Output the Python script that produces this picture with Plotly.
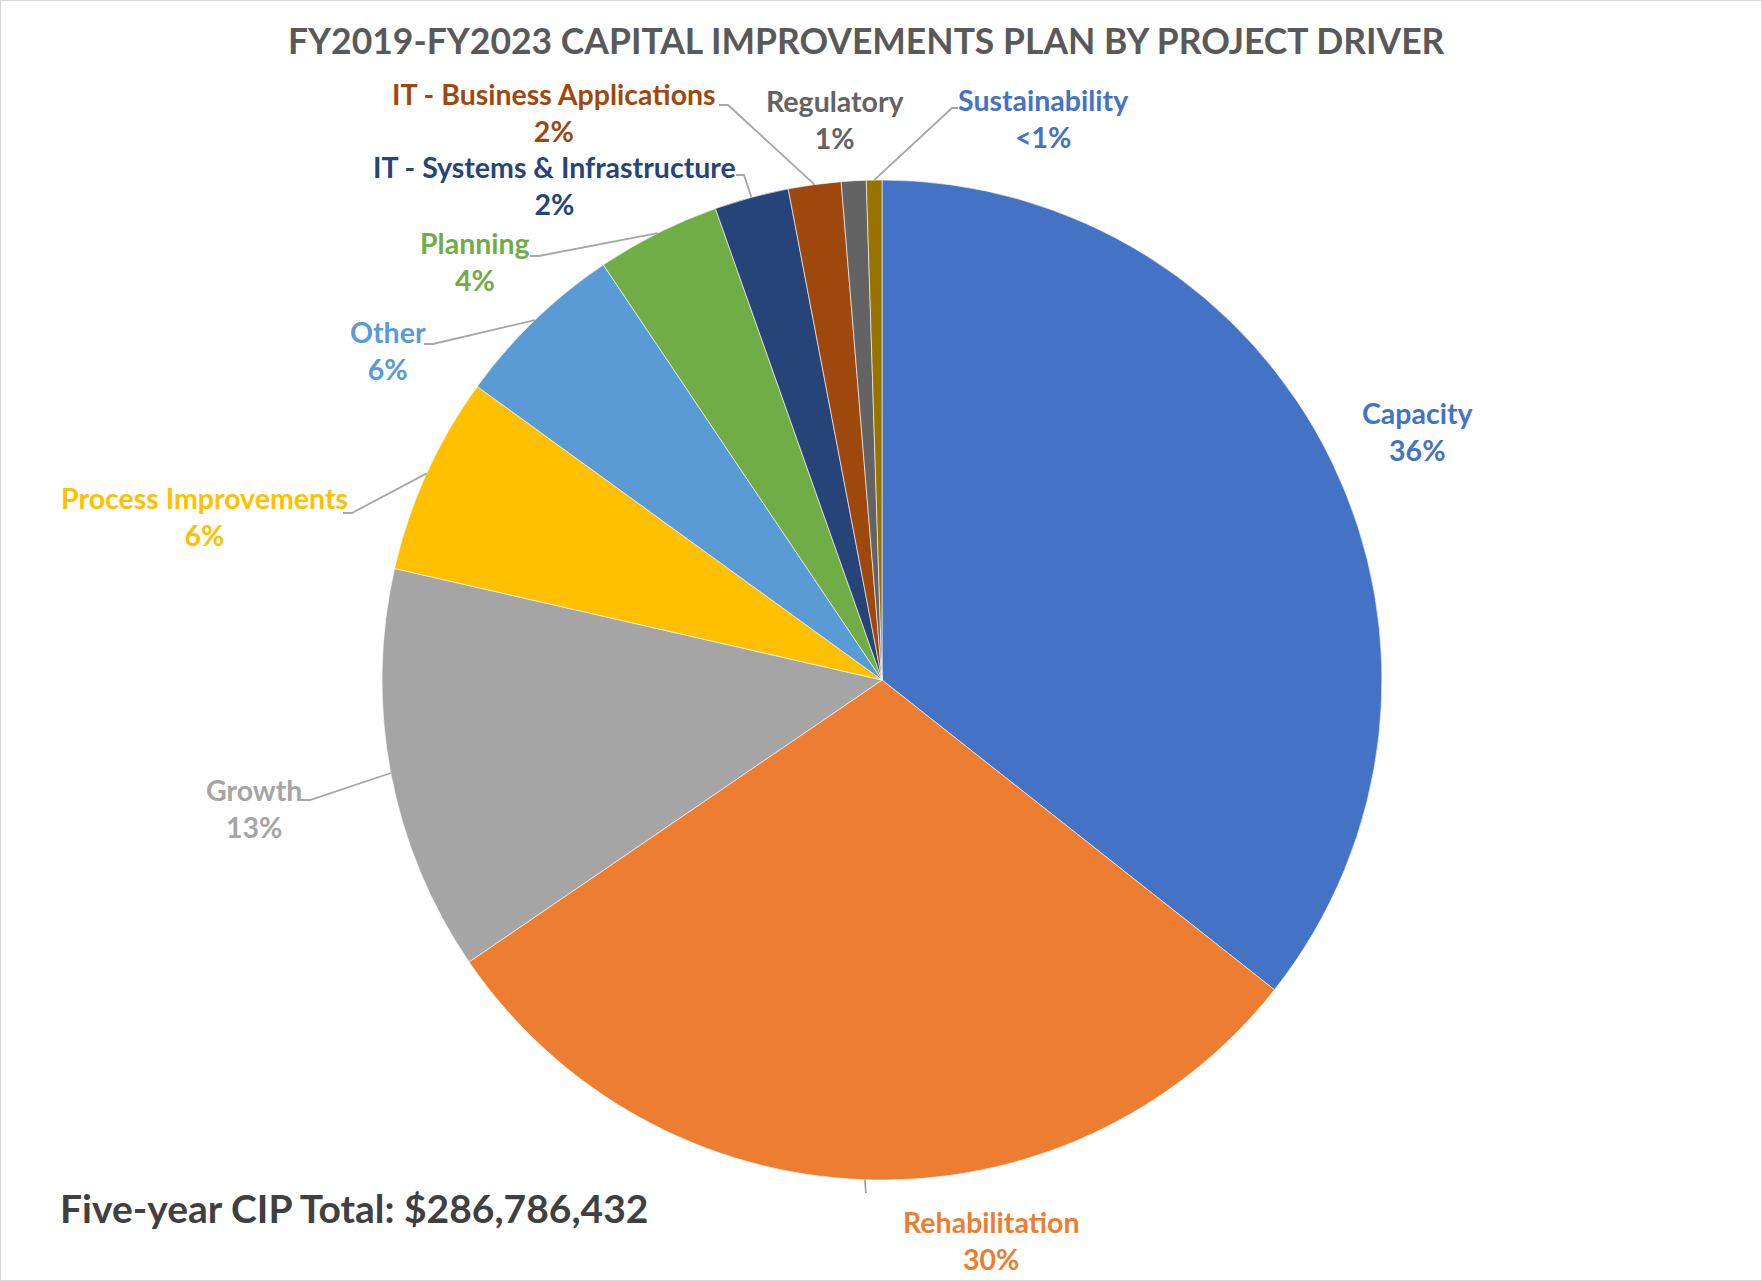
import math
import plotly.graph_objects as go

# ---------------- data ----------------
categories = ["Capacity", "Rehabilitation", "Growth", "Process Improvements", "Other",
              "Planning", "IT - Systems & Infrastructure", "IT - Business Applications",
              "Regulatory", "Sustainability"]
shares = [35.6, 29.8, 13.1, 6.4, 5.6, 4.0, 2.4, 1.7, 0.8, 0.5]
pct_labels = ["36%", "30%", "13%", "6%", "6%", "4%", "2%", "2%", "1%", "<1%"]
title_text = "FY2019-FY2023 CAPITAL IMPROVEMENTS PLAN BY PROJECT DRIVER"
total_text = "Five-year CIP Total: $286,786,432"

# ---------------- style ----------------
W, H = 1762, 1281
slice_colors = ["#4472C4", "#ED7D31", "#A5A5A5", "#FFC000", "#5B9BD5",
                "#70AD47", "#264478", "#9E480E", "#636363", "#997300"]
label_colors = ["#4472C4", "#ED7D31", "#A5A5A5", "#FFC000", "#5B9BD5",
                "#70AD47", "#264478", "#9E480E", "#636363", "#4472C4"]
FONT = "Lato"
CX, CY, R = 882, 680, 500  # pie centre / radius in pixels
# label centre positions (pixels)
label_pos = [(1418, 432), (991, 1240), (254, 808), (204, 516), (388, 350),
             (475, 261), (554, 186), (554, 113), (835, 120), (1043, 119)]
# leader line elbow and end points (pixels), None = no leader
leader = [None, ((866, 1193), (866, 1193)), ((310, 800), (301, 800)),
          ((352, 513), (343, 513)), ((433, 344), (424, 344)),
          ((539, 256), (530, 256)), ((744, 175), (736, 175)),
          ((728, 105), (719, 105)), None, ((952, 108), (958, 108))]


def px(x):
    return x / W


def py(y):
    return 1 - y / H


fig = go.Figure()
fig.add_trace(go.Pie(
    labels=categories, values=shares, sort=False, direction="clockwise", rotation=0,
    marker=dict(colors=slice_colors, line=dict(color="rgba(255,255,255,0.6)", width=1)),
    textinfo="none", hoverinfo="label+percent", showlegend=False,
    domain=dict(x=[px(CX - R), px(CX + R)], y=[py(CY + R), py(CY - R)]),
))

annotations = []
shapes = []
total = sum(shares)
cum = 0.0
for i, (cat, v) in enumerate(zip(categories, shares)):
    mid = (cum + v / 2) / total * 2 * math.pi
    cum += v
    sx = CX + R * math.sin(mid)
    sy = CY - R * math.cos(mid)
    lx, ly = label_pos[i]
    annotations.append(dict(
        x=px(lx), y=py(ly), xref="paper", yref="paper", xanchor="center", yanchor="middle",
        text=f"<b>{cat}<br>{pct_labels[i]}</b>", showarrow=False, align="center",
        font=dict(family=FONT, size=28.5, color=label_colors[i]),
    ))
    if leader[i] is not None:
        (ex, ey), (tx, ty) = leader[i]
        path = f"M {px(sx)} {py(sy)} L {px(ex)} {py(ey)} L {px(tx)} {py(ty)}"
        shapes.append(dict(type="path", xref="paper", yref="paper", path=path,
                           line=dict(color="#A6A6A6", width=1.8)))

annotations.append(dict(
    x=px(866), y=py(40), xref="paper", yref="paper", xanchor="center", yanchor="middle",
    text=f"<b>{title_text}</b>", showarrow=False,
    font=dict(family=FONT, size=35.5, color="#595959"),
))
annotations.append(dict(
    x=px(58), y=py(1208), xref="paper", yref="paper", xanchor="left", yanchor="middle",
    text=f"<b>{total_text}</b>", showarrow=False,
    font=dict(family=FONT, size=39, color="#404040"),
))
shapes.append(dict(type="rect", xref="paper", yref="paper", x0=0, y0=0, x1=1, y1=1,
                   line=dict(color="#D9D9D9", width=2), layer="below"))

fig.update_layout(
    width=W, height=H, margin=dict(l=0, r=0, t=0, b=0),
    paper_bgcolor="white", plot_bgcolor="white",
    annotations=annotations, shapes=shapes,
    font=dict(family=FONT, color="#595959"),
)
fig.write_html("out.html")
